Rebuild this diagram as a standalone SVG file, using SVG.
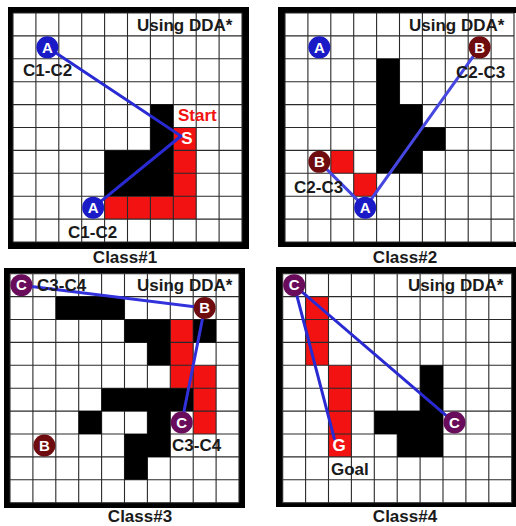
<svg xmlns="http://www.w3.org/2000/svg" xmlns:xlink="http://www.w3.org/1999/xlink" width="516" height="526" viewBox="0 0 516 526">
<style>
.frame{fill:#000}
.field{fill:#fff}
.wall{fill:#000}
.route{fill:#f21212}
.gridl{stroke:#2a2a2a;stroke-width:1.1;fill:none}
.lbl{font-family:"Liberation Sans",Arial,sans-serif;font-weight:bold;font-size:17px;fill:#1a1a1a}
.cap{font-family:"Liberation Sans",Arial,sans-serif;font-weight:bold;font-size:17px;fill:#1a1a1a;text-anchor:middle}
.nl{font-family:"Liberation Sans",Arial,sans-serif;font-weight:bold;font-size:15px;fill:#fff;text-anchor:middle}
.na{fill:#1a1ac6}
.nb{fill:#6e0c10}
.nc{fill:#6a0c5c}
.link{stroke:#2a2ad2;stroke-width:3;fill:none;stroke-linecap:round}
</style>
<defs>
<g id="grid">
<path class="gridl" d="M0 0V229M22.9 0V229M45.8 0V229M68.7 0V229M91.6 0V229M114.5 0V229M137.4 0V229M160.3 0V229M183.2 0V229M206.1 0V229M229 0V229M0 0H229M0 22.9H229M0 45.8H229M0 68.7H229M0 91.6H229M0 114.5H229M0 137.4H229M0 160.3H229M0 183.2H229M0 206.1H229M0 229H229"/>
</g>
</defs>
<rect width="516" height="526" fill="#fff"/>

<!-- Panel 1 -->
<g id="panel1">
<rect class="frame" x="8" y="7" width="241" height="242"/>
<rect class="field" x="13" y="13" width="229" height="229"/>
<g transform="translate(13,13)">
<path class="route" d="M160.3 114.5H183.2V206.1H91.6V183.2H160.3Z"/>
<use xlink:href="#grid"/>
<path class="wall" d="M137.4 91.6H160.3V183.2H91.6V137.4H137.4Z"/>
</g>
<text class="lbl" x="137" y="31">Using DDA*</text>
<text class="lbl" x="178" y="121" style="fill:#f21212">Start</text>
<text class="cap" x="125" y="263">Class#1</text>
</g>

<!-- Panel 2 -->
<g id="panel2">
<rect class="frame" x="278" y="7" width="238" height="240"/>
<rect class="field" x="285" y="13" width="231" height="229"/>
<g transform="translate(285,13)">
<path class="route" d="M45.8 137.4h22.9v22.9h-22.9zM68.7 160.3h22.9v22.9h-22.9z"/>
<use xlink:href="#grid"/>
<path class="wall" d="M91.6 45.8H114.5V91.6H137.4V114.5H160.3V137.4H137.4V160.3H91.6Z"/>
</g>
<text class="lbl" x="409" y="31">Using DDA*</text>
<text class="cap" x="405" y="263">Class#2</text>
</g>

<!-- Panel 3 -->
<g id="panel3">
<rect class="frame" x="4" y="268" width="241" height="240"/>
<rect class="field" x="10" y="273.7" width="229" height="229"/>
<g transform="translate(10,273.7)">
<path class="route" d="M160.3 45.8H183.2V91.6H206.1V160.3H183.2V114.5H160.3Z"/>
<use xlink:href="#grid"/>
<path class="wall" d="M45.8 22.9h68.7v22.9h-68.7z
M114.5 45.8H160.3V91.6H137.4V68.7H114.5Z
M183.2 45.8h22.9v22.9h-22.9z
M91.6 114.5H183.2V137.4H160.3V183.2H137.4V206.1H114.5V160.3H137.4V137.4H91.6Z
M68.7 137.4h22.9v22.9h-22.9z"/>
</g>
<text class="lbl" x="137" y="291">Using DDA*</text>
<text class="cap" x="140" y="522">Class#3</text>
</g>

<!-- Panel 4 -->
<g id="panel4">
<rect class="frame" x="276" y="267" width="240" height="240"/>
<rect class="field" x="282.7" y="273.7" width="229.3" height="229"/>
<g transform="translate(282.7,273.7)">
<path class="route" d="M22.9 22.9h22.9v68.7h-22.9zM45.8 91.6h22.9v91.6h-22.9z"/>
<use xlink:href="#grid"/>
<path class="wall" d="M137.4 91.6H160.3V183.2H114.5V160.3H91.6V137.4H137.4Z"/>
</g>
<text class="lbl" x="408" y="291">Using DDA*</text>
<text class="cap" x="405" y="522">Class#4</text>
</g>

<!-- Connectors -->
<g id="connectors">
<path class="link" d="M47.35 47.35L181 136L93.15 207.65"/>
<path class="link" d="M319.35 161.85L365.15 207.65L479.65 47.35" style="stroke:#4646e0"/>
<path class="link" d="M21.45 285.15L204.65 308.05L181.75 422.55" style="stroke:#3232dc"/>
<path class="link" d="M334.3 438.7L294.15 285.15L454.45 422.55"/>
</g>

<!-- Nodes -->
<g id="p1-A1"><circle class="na" cx="47.35" cy="47.35" r="11"/><text class="nl" x="47.35" y="52.6">A</text><text class="lbl" x="23" y="76">C1-C2</text></g>
<g id="p1-A2"><circle class="na" cx="93.15" cy="207.65" r="11"/><text class="nl" x="93.15" y="212.9">A</text><text class="lbl" x="68" y="238">C1-C2</text></g>
<g id="p1-S"><text class="nl" x="187" y="144" style="font-size:17px">S</text></g>

<g id="p2-A1"><circle class="na" cx="319.35" cy="47.35" r="11"/><text class="nl" x="319.35" y="52.6">A</text></g>
<g id="p2-B1"><circle class="nb" cx="479.65" cy="47.35" r="11"/><text class="nl" x="479.65" y="52.6">B</text><text class="lbl" x="456" y="78">C2-C3</text></g>
<g id="p2-B2"><circle class="nb" cx="319.35" cy="161.85" r="11"/><text class="nl" x="319.35" y="167.1">B</text><text class="lbl" x="294" y="193">C2-C3</text></g>
<g id="p2-A2"><circle class="na" cx="365.15" cy="207.65" r="11"/><text class="nl" x="365.15" y="212.9">A</text></g>

<g id="p3-C1"><circle class="nc" cx="21.45" cy="285.15" r="11"/><text class="nl" x="21.45" y="290.4">C</text><text class="lbl" x="37" y="291">C3-C4</text></g>
<g id="p3-B1"><circle class="nb" cx="204.65" cy="308.05" r="11"/><text class="nl" x="204.65" y="313.3">B</text></g>
<g id="p3-C2"><circle class="nc" cx="181.75" cy="422.55" r="11"/><text class="nl" x="181.75" y="427.8">C</text><text class="lbl" x="172" y="451">C3-C4</text></g>
<g id="p3-B2"><circle class="nb" cx="44.35" cy="445.45" r="11"/><text class="nl" x="44.35" y="450.7">B</text></g>

<g id="p4-C1"><circle class="nc" cx="294.15" cy="285.15" r="11"/><text class="nl" x="294.15" y="290.4">C</text></g>
<g id="p4-C2"><circle class="nc" cx="454.45" cy="422.55" r="11"/><text class="nl" x="454.45" y="427.8">C</text></g>
<g id="p4-G"><text class="nl" x="339" y="451" style="font-size:17px">G</text><text class="lbl" x="331" y="475">Goal</text></g>
</svg>
